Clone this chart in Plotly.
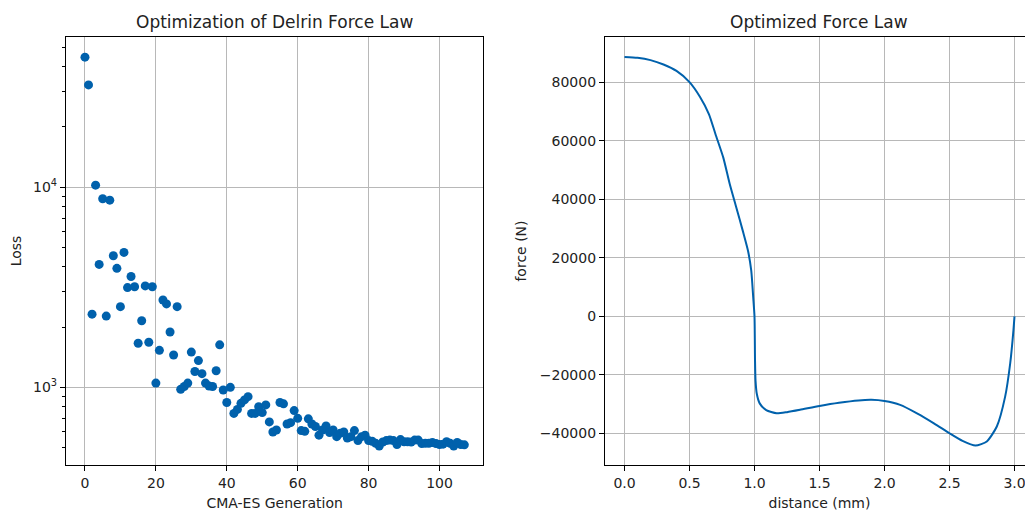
import plotly.graph_objects as go

# ---------------- data ----------------
generation = list(range(108))
loss = [44600, 32400, 2320, 10230, 4110, 8750, 2270, 8610, 4540, 3930,
        2530, 4720, 3150, 3580, 3180, 1660, 2150, 3210, 1680, 3180,
        1050, 1530, 2730, 2610, 1890, 1450, 2530, 977, 1010, 1050,
        1500, 1200, 1360, 1170, 1050, 1015, 1010, 1210, 1630, 970,
        840, 1000, 741, 776, 832, 865, 898, 741, 741, 800,
        748, 817, 672, 598, 612, 840, 827, 656, 666, 765,
        700, 608, 603, 696, 656, 637, 577, 612, 641, 594,
        612, 567, 589, 598, 558, 567, 608, 542, 567, 577,
        542, 538, 525, 509, 533, 542, 545, 542, 518, 548,
        535, 535, 533, 545, 545, 524, 525, 525, 530, 524,
        518, 520, 535, 525, 509, 530, 518, 516]

distance_mm = [0.0, 0.1, 0.2, 0.3, 0.4, 0.5, 0.58, 0.65, 0.7, 0.76,
               0.81, 0.86, 0.91, 0.95, 0.975, 0.99, 1.0, 1.004, 1.008, 1.018,
               1.04, 1.09, 1.17, 1.25, 1.35, 1.5, 1.65, 1.8, 1.9, 2.0,
               2.12, 2.25, 2.38, 2.5, 2.6, 2.7, 2.787, 2.864, 2.928, 2.967,
               2.992, 3.0]
force_N = [88600, 88300, 87500, 86000, 83800, 80000, 75000, 69000, 62200, 54200,
           45100, 37200, 29200, 22400, 15600, 6600, 0, -15000, -22000, -26500,
           -29700, -32000, -33100, -32700, -31900, -30600, -29500, -28700, -28500, -28900,
           -30200, -33100, -36500, -39900, -42500, -44100, -42700, -37600, -27400, -16000,
           -4660, 0]

loss_tickvals = [1000, 10000]
loss_ticktext = ["10<sup>3</sup>", "10<sup>4</sup>"]
loss_minor = [500, 600, 700, 800, 900, 2000, 3000, 4000, 5000, 6000, 7000, 8000, 9000,
              20000, 30000, 40000, 50000]
gen_ticks = [0, 20, 40, 60, 80, 100]
dist_ticks = [0.0, 0.5, 1.0, 1.5, 2.0, 2.5, 3.0]
force_ticks = [-40000, -20000, 0, 20000, 40000, 60000, 80000]

# ---------------- style ----------------
BLUE = "#0061AC"
GRID = "#b8b8b8"
TXT = "#222222"
FONT = "DejaVu Sans"
W, H = 1040, 511
ML, MR, MT, MB = 66, 6, 37, 46
PW = W - ML - MR

fig = go.Figure()
fig.add_trace(go.Scatter(x=generation, y=loss, mode="markers",
                         marker=dict(color=BLUE, size=9, line=dict(width=0)),
                         xaxis="x", yaxis="y", showlegend=False))
fig.add_trace(go.Scatter(x=distance_mm, y=force_N, mode="lines",
                         line=dict(color=BLUE, width=2, shape="spline", smoothing=0.6),
                         xaxis="x2", yaxis="y2", showlegend=False))

axis_common = dict(showline=True, mirror=True, linecolor="black", linewidth=1.2,
                   ticks="outside", ticklen=5, tickwidth=1.2, tickcolor="black",
                   showgrid=True, gridcolor=GRID, gridwidth=1.1, zeroline=False,
                   automargin=False,
                   tickfont=dict(family=FONT, size=14, color=TXT))

d1 = (483.3 - ML) / PW
d2 = (605 - ML) / PW

fig.update_layout(
    width=W, height=H,
    margin=dict(l=ML, r=MR, t=MT, b=MB),
    paper_bgcolor="white", plot_bgcolor="white",
    font=dict(family=FONT, size=14, color=TXT),
    xaxis=dict(axis_common, domain=[0, d1], range=[-5.35, 112.35],
               tickmode="array", tickvals=gen_ticks,
               title=dict(text="CMA-ES Generation", standoff=10,
                          font=dict(family=FONT, size=14, color=TXT))),
    yaxis=dict(axis_common, type="log", range=[2.612, 4.750],
               tickmode="array", tickvals=loss_tickvals, ticktext=loss_ticktext,
               minor=dict(tickmode="array", tickvals=loss_minor, ticks="outside",
                          ticklen=3, tickwidth=1, tickcolor="black", showgrid=False),
               title=dict(text="Loss", standoff=8,
                          font=dict(family=FONT, size=14, color=TXT))),
    xaxis2=dict(axis_common, domain=[d2, 1], range=[-0.15, 3.15], anchor="y2",
                tickmode="array", tickvals=dist_ticks,
                ticktext=[f"{v:.1f}" for v in dist_ticks],
                title=dict(text="distance (mm)", standoff=10,
                           font=dict(family=FONT, size=14, color=TXT))),
    yaxis2=dict(axis_common, anchor="x2", range=[-50740, 95390],
                tickmode="array", tickvals=force_ticks,
                ticktext=[(f"{v}" if v >= 0 else "\u2212" + f"{-v}") for v in force_ticks],
                title=dict(text="force (N)", standoff=9,
                           font=dict(family=FONT, size=14, color=TXT))),
    annotations=[
        dict(text="Optimization of Delrin Force Law", xref="paper", yref="paper",
             x=d1 / 2, xanchor="center", y=1, yanchor="bottom", yshift=3,
             showarrow=False, font=dict(family=FONT, size=17, color=TXT)),
        dict(text="Optimized Force Law", xref="paper", yref="paper",
             x=(d2 + 1) / 2, xanchor="center", y=1, yanchor="bottom", yshift=3,
             showarrow=False, font=dict(family=FONT, size=17, color=TXT)),
    ],
)

fig.write_html("out.html",
               post_script="document.documentElement.style.overflow='hidden';"
                           "document.body.style.overflow='hidden';"
                           "document.body.style.margin='0';")
